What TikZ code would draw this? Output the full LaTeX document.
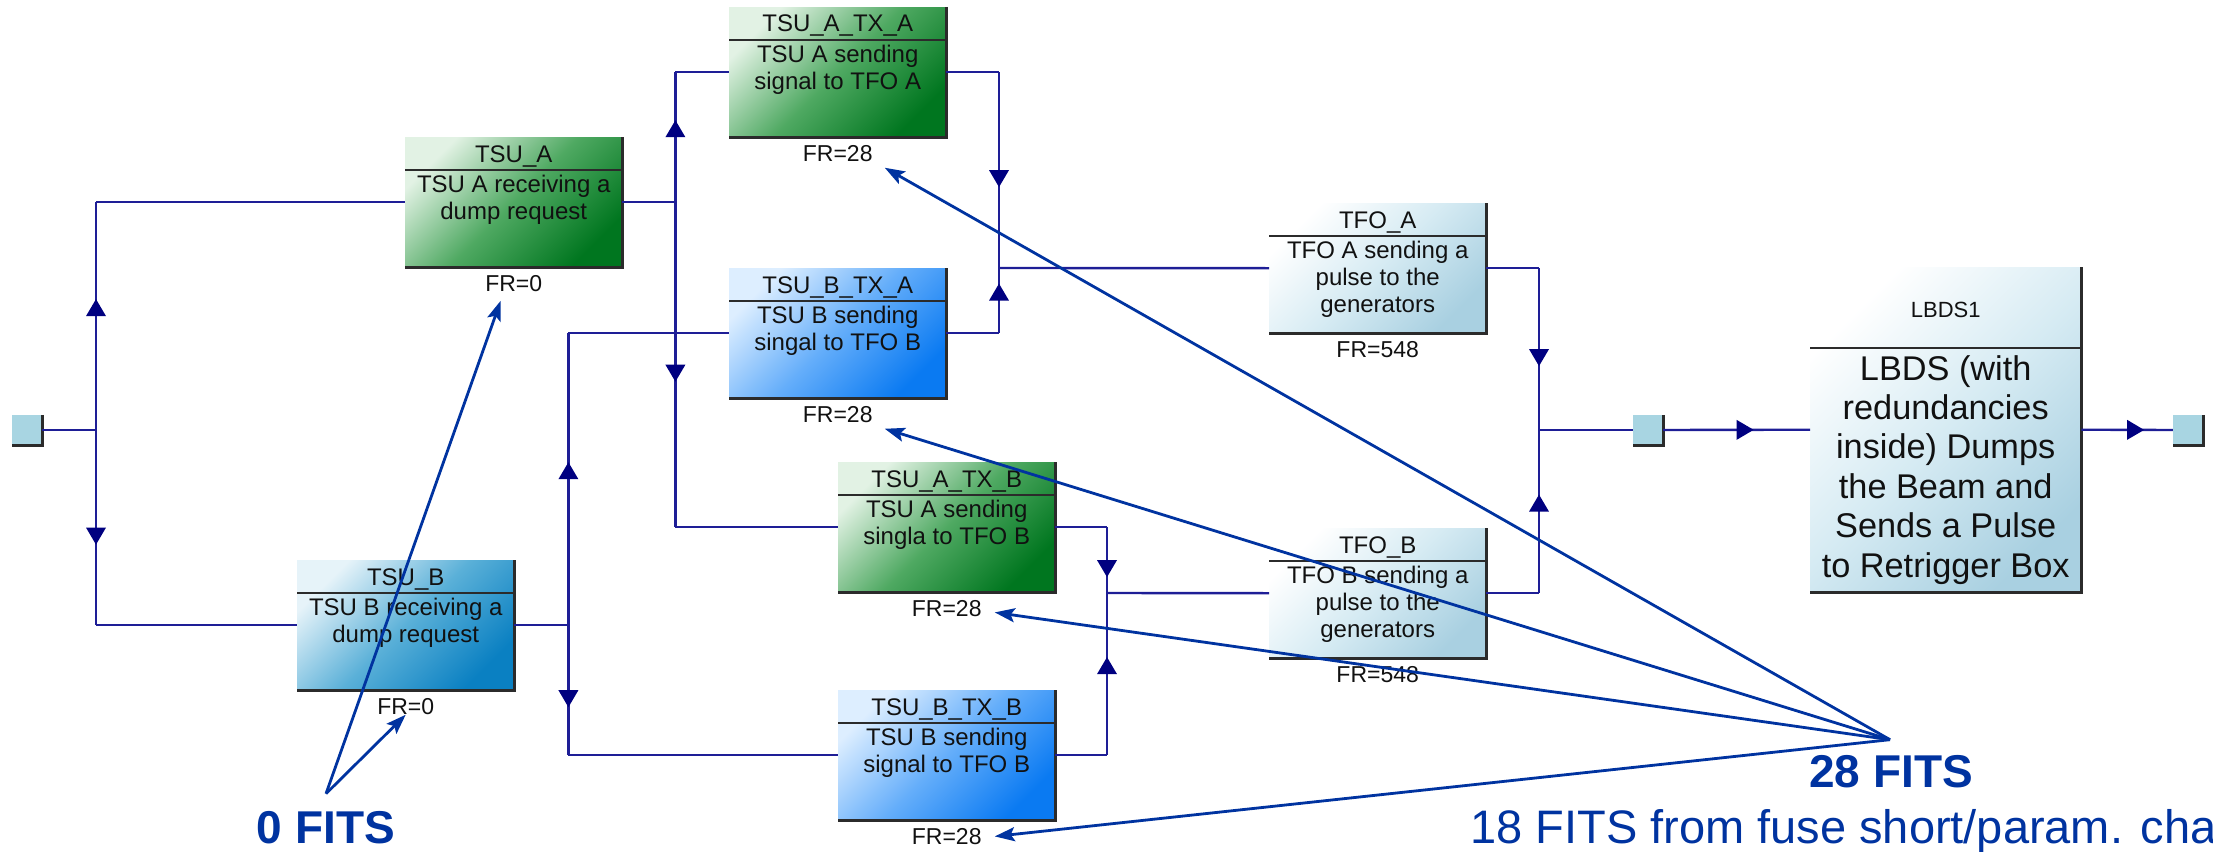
\documentclass[tikz,border=0pt]{standalone}
\usepackage{fontspec}
\setmainfont{Liberation Sans}
\usetikzlibrary{arrows.meta, decorations.markings, calc}

\definecolor{wirec}{HTML}{1E1E96}
\definecolor{tipc}{HTML}{000080}
\definecolor{notec}{HTML}{0033A0}
\definecolor{edgec}{HTML}{2B2B2B}
\definecolor{txtc}{HTML}{111111}
\definecolor{portc}{HTML}{A8D5E2}
% green blocks
\definecolor{gA1}{HTML}{E2F2E4}
\definecolor{gA2}{HTML}{4FA962}
\definecolor{gA3}{HTML}{00761F}
% teal blocks
\definecolor{gB1}{HTML}{E6F3F9}
\definecolor{gB2}{HTML}{5AB0D8}
\definecolor{gB3}{HTML}{0A80C2}
% bright blue blocks
\definecolor{gC1}{HTML}{DDEEFF}
\definecolor{gC2}{HTML}{65AEFA}
\definecolor{gC3}{HTML}{0A7AF2}
% pale blocks
\definecolor{gD1}{HTML}{FFFFFF}
\definecolor{gD2}{HTML}{D6EBF3}
\definecolor{gD3}{HTML}{A9D0E1}

\tikzset{
  blk/.style={rectangle, inner sep=0pt, minimum width=217pt, minimum height=130pt},
  greenblk/.style={blk, top color=gA1, bottom color=gA3, middle color=gA2, shading angle=45},
  tealblk/.style={blk, top color=gB1, bottom color=gB3, middle color=gB2, shading angle=45},
  brightblk/.style={blk, top color=gC1, bottom color=gC3, middle color=gC2, shading angle=45},
  lightblk/.style={blk, top color=gD1, bottom color=gD3, middle color=gD2, shading angle=45},
  edge/.style={draw=edgec, line width=3pt},
  sepline/.style={draw=edgec, line width=2.4pt},
  titletext/.style={font=\fontsize{24}{28}\selectfont, text=txtc, inner sep=0pt},
  bodytext/.style={font=\fontsize{24}{27}\selectfont, text=txtc, inner sep=0pt, align=center},
  frtext/.style={font=\fontsize{23}{26}\selectfont, text=txtc, inner sep=0pt},
  port/.style={rectangle, inner sep=0pt, minimum size=30pt, fill=portc},
  wire/.style={draw=wirec, line width=2.4pt},
  flow/.style={postaction={decorate}, decoration={markings,
      mark=at position 0.5 with {\fill[tipc] (0,-10) -- (17,0) -- (0,10) -- cycle;}}},
  note/.style={draw=notec, line width=2.8pt, -{Stealth[length=20pt, width=14pt, inset=4pt]}},
  fitstext/.style={font=\bfseries\fontsize{46}{50}\selectfont, text=notec, inner sep=0pt},
  remark/.style={font=\fontsize{47}{52}\selectfont, text=notec, inner sep=0pt},
}

% #1 name, #2 x, #3 y of the top-left corner, #4 fill style, #5 title, #6 body, #7 failure rate
\newcommand\ftblock[7]{%
  \node[#4, anchor=north west] (#1) at (#2,#3) {};
  \draw[edge] (#1.north east) -- (#1.south east) -- (#1.south west);
  \draw[sepline] ([yshift=-33pt]#1.north west) -- ([yshift=-33pt]#1.north east);
  \node[titletext, anchor=base] (#1-t) at ([yshift=-25pt]#1.north) {#5};
  \node[bodytext, anchor=north] (#1-b) at ([yshift=-38pt]#1.north) {#6};
  \node[frtext] (#1-fr) at ([yshift=-16pt]#1.south) {FR=#7};
}

\begin{document}
\begin{tikzpicture}[x=1pt, y=-1pt]
\useasboundingbox (0,0) rectangle (2213,851);

% function blocks
\ftblock{tsua}{405}{137}{greenblk}{TSU\_A}{TSU A receiving a\\dump request}{0}
\ftblock{tsub}{297}{560}{tealblk}{TSU\_B}{TSU B receiving a\\dump request}{0}
\ftblock{aa}{729}{7}{greenblk}{TSU\_A\_TX\_A}{TSU A sending\\signal to TFO A}{28}
\ftblock{ba}{729}{268}{brightblk}{TSU\_B\_TX\_A}{TSU B sending\\singal to TFO B}{28}
\ftblock{ab}{838}{462}{greenblk}{TSU\_A\_TX\_B}{TSU A sending\\singla to TFO B}{28}
\ftblock{bb}{838}{690}{brightblk}{TSU\_B\_TX\_B}{TSU B sending\\signal to TFO B}{28}
\ftblock{tfoa}{1269}{203}{lightblk}{TFO\_A}{TFO A sending a\\pulse to the\\generators}{548}
\ftblock{tfob}{1269}{528}{lightblk}{TFO\_B}{TFO B sending a\\pulse to the\\generators}{548}

% main system block
\node[lightblk, minimum width=271pt, minimum height=325pt, anchor=north west] (lbds) at (1810,267) {};
\draw[edge] (lbds.north east) -- (lbds.south east) -- (lbds.south west);
\draw[sepline] ([yshift=-81pt]lbds.north west) -- ([yshift=-81pt]lbds.north east);
\node[titletext, font=\fontsize{22}{26}\selectfont, anchor=base] (lbds-t) at ([yshift=-50pt]lbds.north) {LBDS1};
\node[bodytext, font=\fontsize{34.3}{39.4}\selectfont, anchor=north] (lbds-b) at ([yshift=-88pt]lbds.north)
  {LBDS (with\\redundancies\\inside) Dumps\\the Beam and\\Sends a Pulse\\to Retrigger Box};

% ports
\node[port] (pin) at (27,430) {};
\node[port] (pmid) at (1648,430) {};
\node[port] (pout) at (2188,430) {};
\foreach \p in {pin, pmid, pout}
  \draw[edge] (\p.north east) -- (\p.south east) -- (\p.south west);

% junctions
\coordinate (jin) at (96,430);
\coordinate (jA) at ($(tsua.east)+(53,0)$);
\coordinate (jB) at ($(tsub.east)+(54,0)$);
\coordinate (mA) at (999,268);
\coordinate (mB) at (1107,593);
\coordinate (mO) at (1539,430);

% input split
\draw[wire] (pin.east) -- (jin);
\draw[wire, flow] (jin) -- (jin |- tsua.west);
\draw[wire] (jin |- tsua.west) -- (tsua.west);
\draw[wire, flow] (jin) -- (jin |- tsub.west);
\draw[wire] (jin |- tsub.west) -- (tsub.west);

% TSU A to both transmitters
\draw[wire] (tsua.east) -- (jA);
\draw[wire, flow] (jA) -- (jA |- aa.west);
\draw[wire] (jA |- aa.west) -- (aa.west);
\draw[wire, flow] (jA) -- (jA |- ab.west);
\draw[wire] (jA |- ab.west) -- (ab.west);

% TSU B to both transmitters
\draw[wire] (tsub.east) -- (jB);
\draw[wire, flow] (jB) -- (jB |- ba.west);
\draw[wire] (jB |- ba.west) -- (ba.west);
\draw[wire, flow] (jB) -- (jB |- bb.west);
\draw[wire] (jB |- bb.west) -- (bb.west);

% merge into TFO A
\draw[wire] (aa.east) -- (aa.east -| mA);
\draw[wire, flow] (aa.east -| mA) -- (mA);
\draw[wire] (ba.east) -- (ba.east -| mA);
\draw[wire, flow] (ba.east -| mA) -- (mA);
\draw[wire] (mA) -- (tfoa.west);

% merge into TFO B
\draw[wire] (ab.east) -- (ab.east -| mB);
\draw[wire, flow] (ab.east -| mB) -- (mB);
\draw[wire] (bb.east) -- (bb.east -| mB);
\draw[wire, flow] (bb.east -| mB) -- (mB);
\draw[wire] (mB) -- (tfob.west);

% merge of both TFOs and the output chain
\draw[wire] (tfoa.east) -- (tfoa.east -| mO);
\draw[wire, flow] (tfoa.east -| mO) -- (mO);
\draw[wire] (tfob.east) -- (tfob.east -| mO);
\draw[wire, flow] (tfob.east -| mO) -- (mO);
\draw[wire] (mO) -- (pmid.west);
\draw[wire, flow] (pmid.east) -- (lbds.west);
\draw[wire, flow] (lbds.east) -- (pout.west);

% failure rate notes
\node[fitstext, anchor=base] (n0) at (326,843) {0 FITS};
\node[fitstext, anchor=base] (n28) at (1891,787) {28 FITS};
\node[remark, anchor=base west] (n18) at (1470,843) {18 FITS from fuse short/param. cha};
\coordinate (f0) at ([yshift=17pt]n0.north);
\coordinate (f28) at ([xshift=-1pt,yshift=15pt]n28.north);

\draw[note] (f0) -- ([xshift=-13pt,yshift=-9pt]tsua-fr.south);
\draw[note] (f0) -- (tsub-fr.south);
\draw[note] (f28) -- ([xshift=12pt,yshift=-6pt]aa-fr.south east);
\draw[note] (f28) -- ([xshift=12pt,yshift=-6pt]ba-fr.south east);
\draw[note] (f28) -- ([xshift=13pt,yshift=-4pt]ab-fr.east);
\draw[note] (f28) -- ([xshift=13pt]bb-fr.east);
\end{tikzpicture}
\end{document}
